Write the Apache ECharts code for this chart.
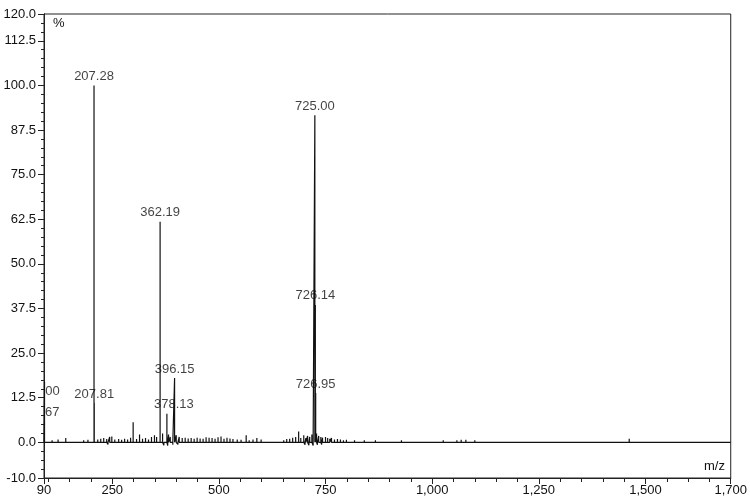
<!DOCTYPE html>
<html>
<head>
<meta charset="utf-8">
<script src="https://cdn.jsdelivr.net/npm/echarts@6/dist/echarts.min.js"></script>
<style>html,body{margin:0;padding:0;background:#fff;}#c{width:750px;height:504px;}</style>
</head>
<body>
<div id="c"></div>
<script>
// Labelled peaks
const peakMz   = [207.28, 725.00, 362.19, 726.14, 396.15, 726.95, 207.81, 378.13, 90.9, 90.6];
const peakInt  = [100.0, 91.6, 61.8, 38.5, 18.0, 13.8, 11.0, 8.0, 11.7, 5.9];
const peakText = ["207.28", "725.00", "362.19", "726.14", "396.15", "726.95", "207.81", "378.13", "00", "67"];

// Unlabelled small peaks (m/z, %)
const noiseMz = [91.2, 109, 123, 141, 155, 165, 183, 193, 200, 216, 223, 230, 237, 244, 249, 256, 265, 272, 279, 286, 293, 299,
  307, 314, 321, 328, 335, 342, 349, 354, 368, 382, 386, 400, 407, 414, 421, 428, 435, 442, 449, 456, 463, 470, 477, 484, 491, 498, 505, 512, 519, 526, 533,
  543, 552, 564, 571, 580, 589, 599, 608, 617, 629, 641, 652, 659, 666, 673, 680, 687, 692, 699, 704, 708, 713, 718, 729, 734, 739, 743,
  750, 755, 760, 764, 771, 778, 785, 792, 799, 808, 818, 827, 841, 858, 867, 928,
  1005, 1026, 1044, 1058, 1068, 1079, 1086, 1100, 1266, 1462];
const noiseInt = [17.0, 0.6, 0.8, 1.2, 0.5, 0.4, 0.6, 0.7, 0.5, 0.8, 1.0, 1.2, 0.9, 1.5, 1.6, 0.8, 0.9, 0.7, 1.0, 0.8, 1.3, 5.6,
  0.9, 2.2, 1.0, 1.2, 0.8, 1.5, 2.0, 1.5, 2.5, 2.2, 1.5, 2.0, 1.5, 1.2, 1.3, 1.1, 1.2, 1.0, 1.3, 1.1, 1.0, 1.4, 1.3, 1.2, 1.0, 1.4, 1.6, 1.0, 1.3, 1.1, 0.9,
  0.8, 0.7, 2.0, 0.6, 0.8, 1.2, 0.8, 0.5, 0.4, 0.4, 0.5, 0.6, 0.9, 1.0, 1.3, 1.5, 3.0, 1.2, 2.0, 1.2, 1.8, 1.5, 2.2, 2.5, 1.8, 1.5, 1.3,
  1.5, 1.2, 1.0, 1.2, 0.8, 0.9, 0.8, 0.6, 0.7, 0.5, 0.6, 0.5, 0.6, 0.5, 0.6, 0.6,
  0.5, 0.6, 0.5, 0.6, 0.7, 0.7, 0.5, 0.6, 0.5, 1.0];
// small dips below the baseline
const dipMz  = [226, 240, 318, 345, 371, 380, 392, 404, 418, 446, 474, 502, 530, 677, 702, 711, 721, 731, 741, 752];
const dipInt = [-0.5, -0.6, -0.4, -0.5, -0.8, -0.9, -0.7, -0.6, -0.5, -0.4, -0.5, -0.4, -0.4, -0.5, -0.7, -0.8, -0.9, -0.7, -0.6, -0.5];

const xMin = 90, xMax = 1700;
const xLabelValues = [90, 250, 500, 750, 1000, 1250, 1500, 1700];
const yMin = -10, yMax = 120;
const yLabelValues = [-10, 0, 12.5, 25, 37.5, 50, 62.5, 75, 87.5, 100, 112.5, 120];

// build stick spectrum
const sticks = [];
peakMz.forEach((m, i) => sticks.push([m, peakInt[i]]));
noiseMz.forEach((m, i) => sticks.push([m, noiseInt[i]]));
dipMz.forEach((m, i) => sticks.push([m, dipInt[i]]));
sticks.sort((a, b) => a[0] - b[0]);
const lineData = [[xMin, 0]];
sticks.forEach(s => { lineData.push([s[0], 0], [s[0], s[1]], [s[0], 0]); });
lineData.push([xMax, 0]);

const labelOffsets = {"378.13": [7, 0], "00": [8, 0], "67": [8, 0]};
const labelData = peakMz.map((m, i) => ({
  value: [m, peakInt[i]],
  label: { show: true, formatter: peakText[i], offset: labelOffsets[peakText[i]] || [0, 0] }
}));

const xMinor = [];
for (let v = 100; v < xMax; v += 50) xMinor.push(v);
xMinor.push(xMin, xMax);
const yMinor = [];
for (let v = yMin; v <= yMax; v += 2.5) yMinor.push(v);

const txt = {color: '#111', fontFamily: 'Liberation Sans', fontSize: 13};
const axisLine = {show: true, onZero: false, lineStyle: {color: '#222', width: 1}};

const chart = echarts.init(document.getElementById('c'), null, {renderer: 'canvas'});
chart.setOption({
  animation: false,
  backgroundColor: '#fff',
  grid: {left: 44, right: 18, top: 14, bottom: 26, show: true, borderColor: '#222', borderWidth: 1},
  xAxis: [
    {type: 'value', min: xMin, max: xMax, position: 'bottom', axisLine: axisLine,
     axisTick: {show: true, customValues: xLabelValues, length: 6, lineStyle: {color: '#222'}},
     axisLabel: Object.assign({customValues: xLabelValues, margin: 6,
       formatter: v => Number(v).toLocaleString('en-US')}, txt),
     splitLine: {show: false}},
    {type: 'value', min: xMin, max: xMax, position: 'bottom', axisLine: axisLine,
     axisTick: {show: true, customValues: xMinor, length: 4, lineStyle: {color: '#222'}},
     axisLabel: {show: false}, splitLine: {show: false}}
  ],
  yAxis: [
    {type: 'value', min: yMin, max: yMax, position: 'left', axisLine: axisLine,
     axisTick: {show: true, customValues: yLabelValues, length: 6, lineStyle: {color: '#222'}},
     axisLabel: Object.assign({customValues: yLabelValues, margin: 8,
       formatter: v => Number(v).toFixed(1)}, txt),
     splitLine: {show: false}},
    {type: 'value', min: yMin, max: yMax, position: 'left', axisLine: axisLine,
     axisTick: {show: true, customValues: yMinor, length: 3, lineStyle: {color: '#222'}},
     axisLabel: {show: false}, splitLine: {show: false}}
  ],
  series: [
    {type: 'line', xAxisIndex: 0, yAxisIndex: 0, data: lineData, showSymbol: false, symbol: 'none',
     lineStyle: {color: '#111', width: 1.2}, clip: true},
    {type: 'scatter', xAxisIndex: 0, yAxisIndex: 0, data: labelData, symbolSize: 1,
     itemStyle: {color: 'rgba(0,0,0,0)'},
     label: Object.assign({position: 'top', distance: 2}, txt)}
  ],
  graphic: [
    {type: 'text', left: 53, top: 17, style: Object.assign({text: '%'}, {fill: '#111', font: '13px "Liberation Sans"'})},
    {type: 'text', left: 704, top: 460, style: {text: 'm/z', fill: '#111', font: '13px "Liberation Sans"'}}
  ]
});
</script>
</body>
</html>
